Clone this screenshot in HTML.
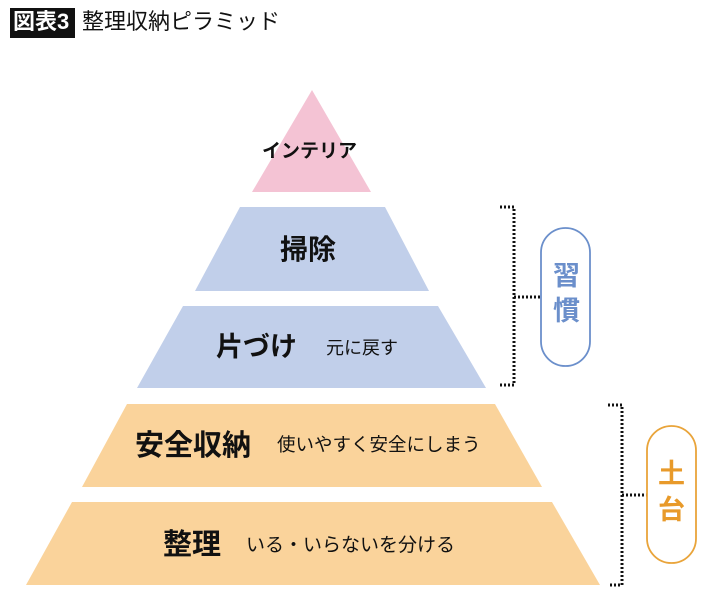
<!DOCTYPE html>
<html><head><meta charset="utf-8"><style>
html,body{margin:0;padding:0;background:#fff;}
body{width:710px;height:601px;position:relative;overflow:hidden;font-family:"Liberation Sans","Noto Sans CJK JP",sans-serif;}
.t{position:absolute;white-space:nowrap;line-height:1;}
</style></head><body>
<div style="position:absolute;left:10px;top:8px;width:65px;height:30px;background:#111;"></div>
<div class="t" style="left:13px;top:11px;font-size:22px;color:#fff;font-weight:bold;">図表3</div>
<div class="t" style="left:82px;top:11px;font-size:22px;color:#111;">整理収納ピラミッド</div>
<svg width="710" height="601" style="position:absolute;left:0;top:0;">
<polygon points="312,90 371,192 252,192" fill="#f4c3d4"/>
<polygon points="240,207 385,207 429,291 195,291" fill="#c1cfea"/>
<polygon points="183,306 438,306 486,388 137,388" fill="#c1cfea"/>
<polygon points="127,404 495,404 542,487 82,487" fill="#fad39b"/>
<polygon points="72,502 552,502 600,585 26,585" fill="#fad39b"/>
<g stroke="#111" stroke-width="3" stroke-dasharray="2,2" fill="none">
<polyline points="500,207 514,207 514,385 500,385"/>
<line x1="514" y1="297" x2="541" y2="297"/>
<polyline points="608,405 622,405 622,585 608,585"/>
<line x1="622" y1="495" x2="647" y2="495"/>
</g>
<rect x="541" y="228" width="49" height="138" rx="24.5" fill="#fff" stroke="#6b8fcb" stroke-width="1.8"/>
<rect x="647" y="426" width="49" height="137" rx="24.5" fill="#fff" stroke="#e9a43a" stroke-width="1.8"/>
</svg>
<div class="t" style="left:553px;top:263px;font-size:27px;color:#6b8fcb;font-weight:bold;">習</div>
<div class="t" style="left:553px;top:298px;font-size:27px;color:#6b8fcb;font-weight:bold;">慣</div>
<div class="t" style="left:658px;top:461px;font-size:27px;color:#e89a2a;font-weight:bold;">土</div>
<div class="t" style="left:658px;top:497px;font-size:27px;color:#e89a2a;font-weight:bold;">台</div>
<div class="t" style="left:262px;top:142px;font-size:19px;color:#111;font-weight:bold;">インテリア</div>
<div class="t" style="left:280px;top:236px;font-size:28px;color:#111;font-weight:bold;">掃除</div>
<div class="t" style="left:216px;top:334px;font-size:27px;color:#111;font-weight:bold;">片づけ</div>
<div class="t" style="left:326px;top:339px;font-size:18px;color:#111;">元に戻す</div>
<div class="t" style="left:135px;top:432px;font-size:29px;color:#111;font-weight:bold;">安全収納</div>
<div class="t" style="left:277px;top:436px;font-size:18.5px;color:#111;">使いやすく安全にしまう</div>
<div class="t" style="left:163px;top:531px;font-size:29px;color:#111;font-weight:bold;">整理</div>
<div class="t" style="left:246px;top:536px;font-size:19px;color:#111;">いる・いらないを分ける</div>
</body></html>
